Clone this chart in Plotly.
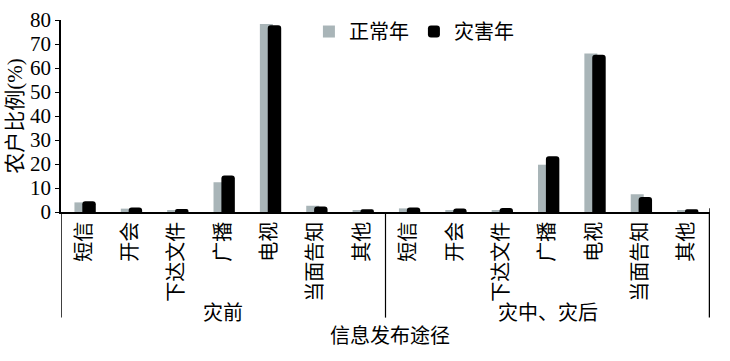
import plotly.graph_objects as go

categories = ["短信", "开会", "下达文件", "广播", "电视", "当面告知", "其他",
              "短信", "开会", "下达文件", "广播", "电视", "当面告知", "其他"]
groups = ["灾前", "灾中、灾后"]
normal_year = [4.0, 1.4, 0.5, 12.4, 78.3, 2.6, 0.5,
               1.5, 0.5, 0.5, 19.7, 66.0, 7.4, 0.5]
disaster_year = [4.5, 1.9, 1.2, 15.2, 77.8, 2.3, 1.1,
                 1.9, 1.5, 1.7, 23.2, 65.5, 6.3, 1.1]
y_ticks = [0, 10, 20, 30, 40, 50, 60, 70, 80]

FONT = "Liberation Serif, Noto Sans CJK SC"
xs = list(range(len(categories)))

fig = go.Figure()
fig.add_trace(go.Bar(x=xs, y=normal_year, name="正常年", width=0.28, offset=-0.21,
                     marker=dict(color="#a9b5b8", line=dict(width=0))))
fig.add_trace(go.Bar(x=xs, y=disaster_year, name="灾害年", width=0.29, offset=-0.04,
                     marker=dict(color="#000000", line=dict(width=0), cornerradius=3)))

# group separator lines below axis
for xv, w in [(-0.5, 1.5), (6.5, 1.2), (13.5, 2.5)]:
    fig.add_shape(type="line", xref="x", yref="paper", x0=xv, x1=xv, y0=0, y1=-0.55,
                  line=dict(color="black", width=w))
fig.add_shape(type="line", xref="x", yref="paper", x0=13.5, x1=13.5, y0=0, y1=0.02,
              line=dict(color="black", width=1.5))

for gx, gt in [(3, groups[0]), (10, groups[1])]:
    fig.add_annotation(x=gx, y=-0.528, xref="x", yref="paper", text=gt, showarrow=False,
                       yanchor="middle", xanchor="center",
                       font=dict(size=20, family=FONT, color="black"))
fig.add_annotation(x=0.507, y=-0.646, xref="paper", yref="paper", text="信息发布途径", showarrow=False,
                   yanchor="middle", xanchor="center",
                   font=dict(size=20, family=FONT, color="black"))

fig.update_layout(
    width=730, height=361,
    margin=dict(l=61, r=20, t=17, b=149),
    paper_bgcolor="white", plot_bgcolor="white",
    barmode="overlay",
    showlegend=True,
    legend=dict(orientation="h", x=0.382, y=0.94, xanchor="left", yanchor="middle",
                font=dict(size=20, family=FONT, color="black"), itemwidth=30,
                bgcolor="rgba(0,0,0,0)", traceorder="normal"),
    xaxis=dict(range=[-0.5, 13.5], tickmode="array", tickvals=xs, ticktext=categories,
               tickangle=-90, ticks="", showgrid=False, showline=True, linecolor="black",
               linewidth=1.5, zeroline=False, automargin=False,
               tickfont=dict(size=20, family=FONT, color="black")),
    yaxis=dict(range=[0, 80], tickmode="array", tickvals=y_ticks, ticks="outside",
               ticklen=4, tickcolor="black", showgrid=False, showline=True, linecolor="black",
               linewidth=1.5, zeroline=False, automargin=False,
               title=dict(text="农户比例(%)", font=dict(size=21, family=FONT, color="black"), standoff=2),
               tickfont=dict(size=21, family=FONT, color="black")),
)

fig.write_html("out.html")
